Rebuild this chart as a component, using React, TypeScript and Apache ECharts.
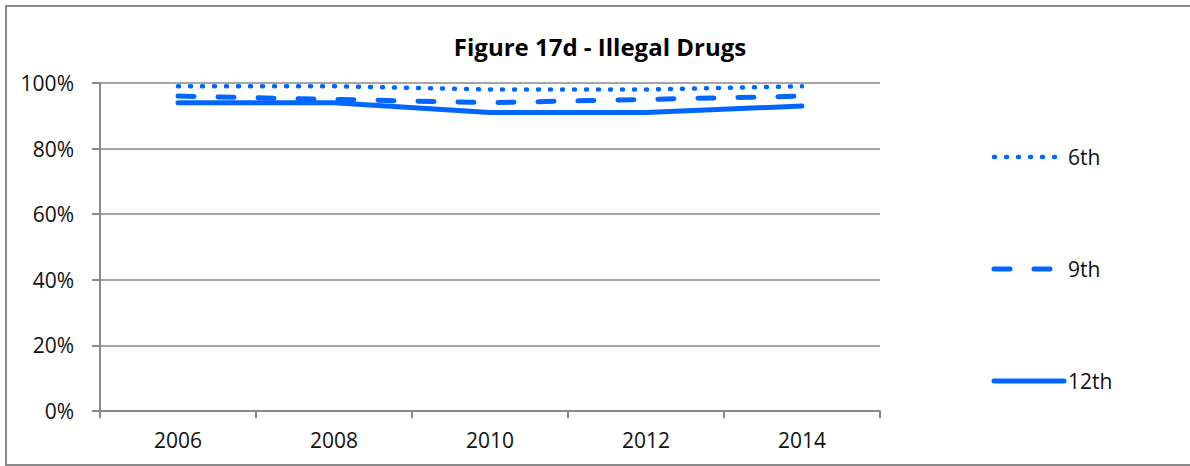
import React, { useEffect, useRef } from "react";
import * as echarts from "echarts";

// Survey years and share of students (%) by grade
const years = ["2006", "2008", "2010", "2012", "2014"];
const grade6 = [99, 99, 98, 98, 99];
const grade9 = [96, 95, 94, 95, 96];
const grade12 = [94, 94, 91, 91, 93];
const yTicks = [0, 20, 40, 60, 80, 100];

const BLUE = "#0066ff";
const AXIS = "#898989";
const FONT = "'Open Sans', 'Noto Sans', sans-serif";

export default function App() {
  const ref = useRef<HTMLDivElement>(null);

  useEffect(() => {
    document.body.style.margin = "0";
    if (!ref.current) return;
    const chart = echarts.init(ref.current, undefined, { renderer: "svg" });

    const seriesDefs = [
      { name: "6th", data: grade6, dash: [1, 11], width: 4.5 },
      { name: "9th", data: grade9, dash: [16, 24], width: 5 },
      { name: "12th", data: grade12, dash: null as number[] | null, width: 5 },
    ];

    const legendY = [157, 269, 381];

    chart.setOption({
      animation: false,
      backgroundColor: "#ffffff",
      textStyle: { fontFamily: FONT },
      title: {
        text: "Figure 17d - Illegal Drugs",
        left: 595,
        top: 29,
        textAlign: "center",
        textStyle: { fontFamily: FONT, fontSize: 24, fontWeight: "bold", color: "#000" },
      },
      grid: { left: 100, right: 310, top: 83, bottom: 55, containLabel: false },
      xAxis: {
        type: "category",
        data: years,
        boundaryGap: true,
        axisLine: { lineStyle: { color: AXIS, width: 2 } },
        axisTick: { show: true, length: 7, inside: false, lineStyle: { color: AXIS, width: 2 } },
        axisLabel: { color: "#111", fontSize: 21, fontFamily: FONT, margin: 18 },
        splitLine: { show: false },
      },
      yAxis: {
        type: "value",
        min: 0,
        max: 100,
        interval: 20,
        axisLine: { show: true, lineStyle: { color: AXIS, width: 2 } },
        axisTick: { show: true, length: 8, inside: false, lineStyle: { color: AXIS, width: 2 } },
        axisLabel: {
          color: "#111",
          fontSize: 21,
          fontFamily: FONT,
          margin: 26,
          formatter: (v: number) => (yTicks.includes(v) ? `${v}%` : ""),
        },
        splitLine: { show: true, lineStyle: { color: AXIS, width: 1.5 } },
      },
      legend: { show: false },
      series: seriesDefs.map((s) => ({
        name: s.name,
        type: "line",
        data: s.data,
        symbol: "none",
        lineStyle: {
          color: BLUE,
          width: s.width,
          type: s.dash ? s.dash : "solid",
          cap: "round",
        },
        z: 3,
      })),
      graphic: [
        {
          type: "rect",
          shape: { x: 6, y: 6, width: 1200, height: 459 },
          style: { fill: "none", stroke: AXIS, lineWidth: 2 },
          silent: true,
        },
        ...seriesDefs.flatMap((s, i) => [
          {
            type: "line",
            shape: {
              x1: 994,
              y1: legendY[i],
              x2: s.dash ? (i === 0 ? 1056 : 1052) : 1064,
              y2: legendY[i],
            },
            style: {
              stroke: BLUE,
              lineWidth: s.width,
              lineDash: s.dash,
              lineCap: "round",
            },
          },
          {
            type: "text",
            x: 1068,
            y: legendY[i],
            style: {
              text: s.name,
              fill: "#111",
              font: `21px ${FONT}`,
              verticalAlign: "middle",
            },
          },
        ]),
      ],
    });

    return () => chart.dispose();
  }, []);

  return <div ref={ref} style={{ width: 1190, height: 466 }} />;
}
